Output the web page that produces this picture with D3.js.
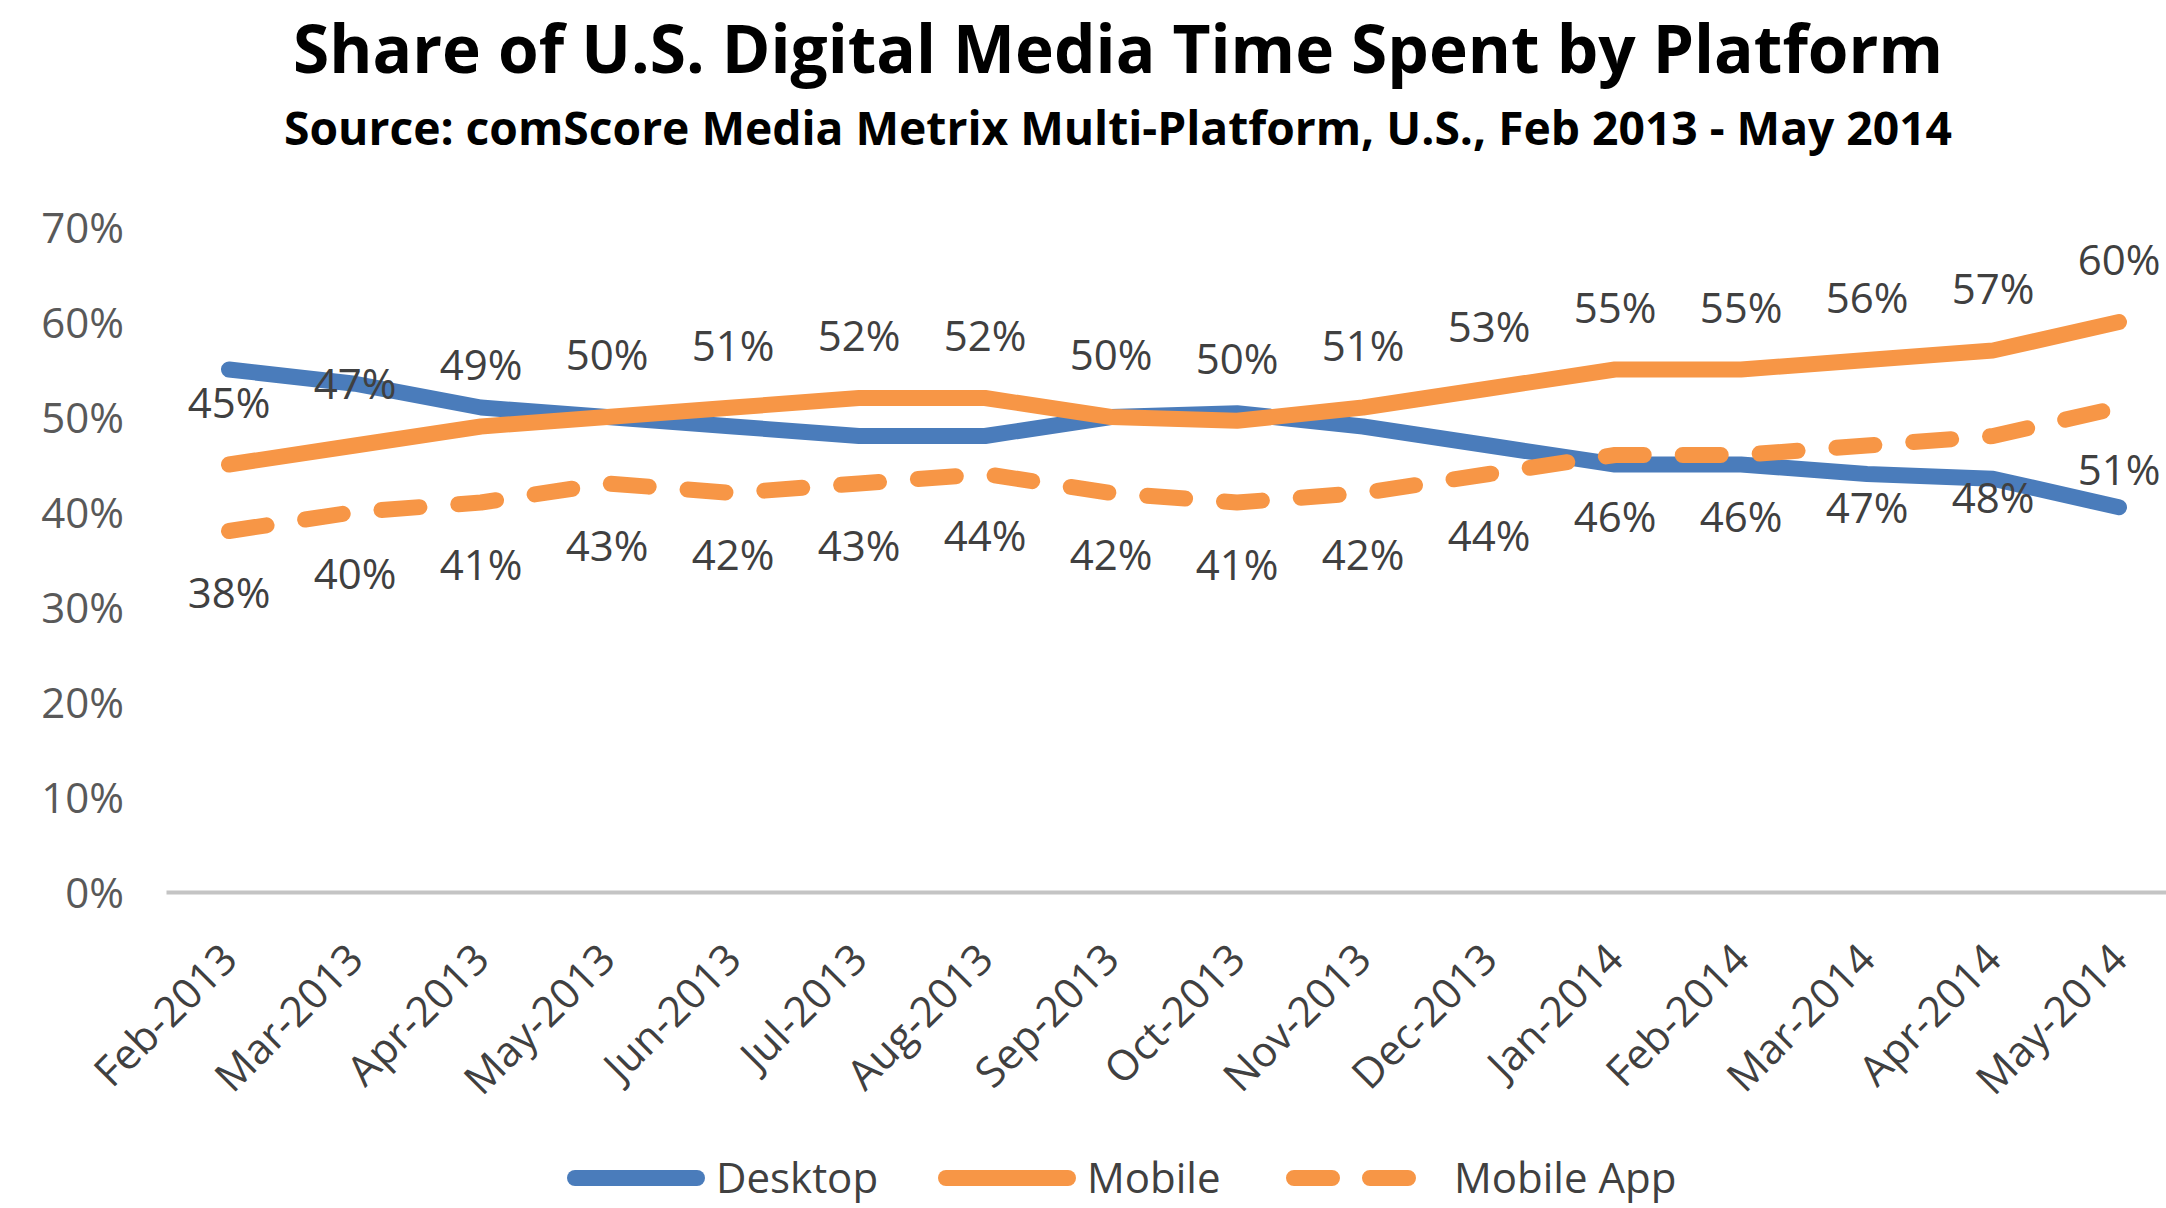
<!DOCTYPE html>
<html>
<head>
<meta charset="utf-8">
<script src="https://cdn.jsdelivr.net/npm/d3@7"></script>
<style>
  body { margin: 0; background: #fff; }
  text { font-family: "Open Sans", "Noto Sans", sans-serif; }
</style>
</head>
<body>
<svg id="chart"></svg>
<script>
// Share of U.S. digital media time spent, by platform (comScore, Feb 2013 - May 2014)

const months = ["Feb-2013", "Mar-2013", "Apr-2013", "May-2013", "Jun-2013", "Jul-2013",
  "Aug-2013", "Sep-2013", "Oct-2013", "Nov-2013", "Dec-2013", "Jan-2014",
  "Feb-2014", "Mar-2014", "Apr-2014", "May-2014"];

const desktop = [0.55, 0.535, 0.51, 0.50, 0.49, 0.48, 0.48, 0.50, 0.504, 0.49, 0.47, 0.45, 0.45, 0.44, 0.435, 0.405];
const mobile = [0.45, 0.47, 0.49, 0.50, 0.51, 0.52, 0.52, 0.50, 0.496, 0.51, 0.53, 0.55, 0.55, 0.56, 0.57, 0.60];
const mobileApp = [0.38, 0.40, 0.41, 0.43, 0.42, 0.43, 0.44, 0.42, 0.41, 0.42, 0.44, 0.46, 0.46, 0.47, 0.48, 0.51];

const yTicks = [0, 0.1, 0.2, 0.3, 0.4, 0.5, 0.6, 0.7];

const width = 2166, height = 1208;
const margin = {top: 227, right: -16, bottom: 316, left: 166};

const blue = "#4a7cbb", orange = "#f79646";

const svg = d3.select("#chart")
  .attr("width", width)
  .attr("height", height);

svg.append("rect").attr("width", width).attr("height", height).attr("fill", "#fff");

const x = d3.scaleBand()
  .domain(months)
  .range([margin.left, width - margin.right]);

const y = d3.scaleLinear()
  .domain([0, 0.7])
  .range([height - margin.bottom, margin.top]);

const xc = d => x(d) + x.bandwidth() / 2;
const pct = d3.format(".0%");

// Title
svg.append("text")
  .attr("x", 1118)
  .attr("y", 73)
  .attr("text-anchor", "middle")
  .attr("textLength", 1650)
  .attr("lengthAdjust", "spacingAndGlyphs")
  .style("font-size", "66px")
  .style("font-weight", 700)
  .attr("fill", "#000")
  .text("Share of U.S. Digital Media Time Spent by Platform");

svg.append("text")
  .attr("x", 1118)
  .attr("y", 145)
  .attr("text-anchor", "middle")
  .attr("textLength", 1668)
  .attr("lengthAdjust", "spacingAndGlyphs")
  .style("font-size", "47px")
  .style("font-weight", 700)
  .attr("fill", "#000")
  .text("Source: comScore Media Metrix Multi-Platform, U.S., Feb 2013 - May 2014");

// Y axis
const yAxis = svg.append("g")
  .attr("transform", `translate(${margin.left},0)`)
  .call(d3.axisLeft(y).tickValues(yTicks).tickFormat(pct).tickSize(0).tickPadding(42));
yAxis.select(".domain").remove();
yAxis.selectAll("text")
  .attr("fill", "#595959")
  .attr("dy", "0.36em")
  .style("font-size", "42px");

// X axis
const xAxis = svg.append("g")
  .attr("transform", `translate(0,${height - margin.bottom})`)
  .call(d3.axisBottom(x).tickSize(0));
xAxis.select(".domain")
  .attr("stroke", "#c4c4c4")
  .attr("stroke-width", 4);
xAxis.selectAll("text")
  .attr("x", 0)
  .attr("y", 0)
  .attr("dy", "0.36em")
  .attr("transform", "translate(0,59) rotate(-45)")
  .attr("text-anchor", "end")
  .attr("fill", "#404040")
  .style("font-size", "42px");

// Lines
const line = d3.line()
  .x((d, i) => xc(months[i]))
  .y(d => y(d));

const series = [
  {name: "Desktop", values: desktop, color: blue, dash: null},
  {name: "Mobile", values: mobile, color: orange, dash: null},
  {name: "Mobile App", values: mobileApp, color: orange, dash: "38 39"}
];

svg.append("g")
  .selectAll("path")
  .data(series)
  .join("path")
  .attr("fill", "none")
  .attr("stroke", d => d.color)
  .attr("stroke-width", 16)
  .attr("stroke-linecap", "round")
  .attr("stroke-linejoin", "round")
  .attr("stroke-dasharray", d => d.dash)
  .attr("d", d => line(d.values));

// Data labels: Mobile above, Mobile App below
const labels = svg.append("g")
  .attr("fill", "#404040")
  .style("font-size", "42px")
  .attr("text-anchor", "middle");

labels.selectAll(".lab-mobile")
  .data(mobile)
  .join("text")
  .attr("class", "lab-mobile")
  .attr("x", (d, i) => xc(months[i]))
  .attr("y", d => y(d) - 62)
  .attr("dy", "0.36em")
  .text(d => pct(d));

labels.selectAll(".lab-app")
  .data(mobileApp)
  .join("text")
  .attr("class", "lab-app")
  .attr("x", (d, i) => xc(months[i]))
  .attr("y", d => y(d) + 62)
  .attr("dy", "0.36em")
  .text(d => pct(d));

// Legend
const legendX = [567, 938, 1286];
const legend = svg.append("g").attr("transform", "translate(0,1178)");

series.forEach((s, i) => {
  const row = legend.append("g").attr("transform", `translate(${legendX[i]},0)`);
  const len = s.dash ? 114 : 122;
  row.append("line")
    .attr("x1", 8)
    .attr("x2", 8 + len)
    .attr("stroke", s.color)
    .attr("stroke-width", 16)
    .attr("stroke-linecap", "round")
    .attr("stroke-dasharray", s.dash ? "38 38" : null);
  row.append("text")
    .attr("x", s.dash ? 168 : len + 27)
    .attr("dy", "0.36em")
    .attr("fill", "#404040")
    .style("font-size", "42px")
    .text(s.name);
});
</script>
</body>
</html>
